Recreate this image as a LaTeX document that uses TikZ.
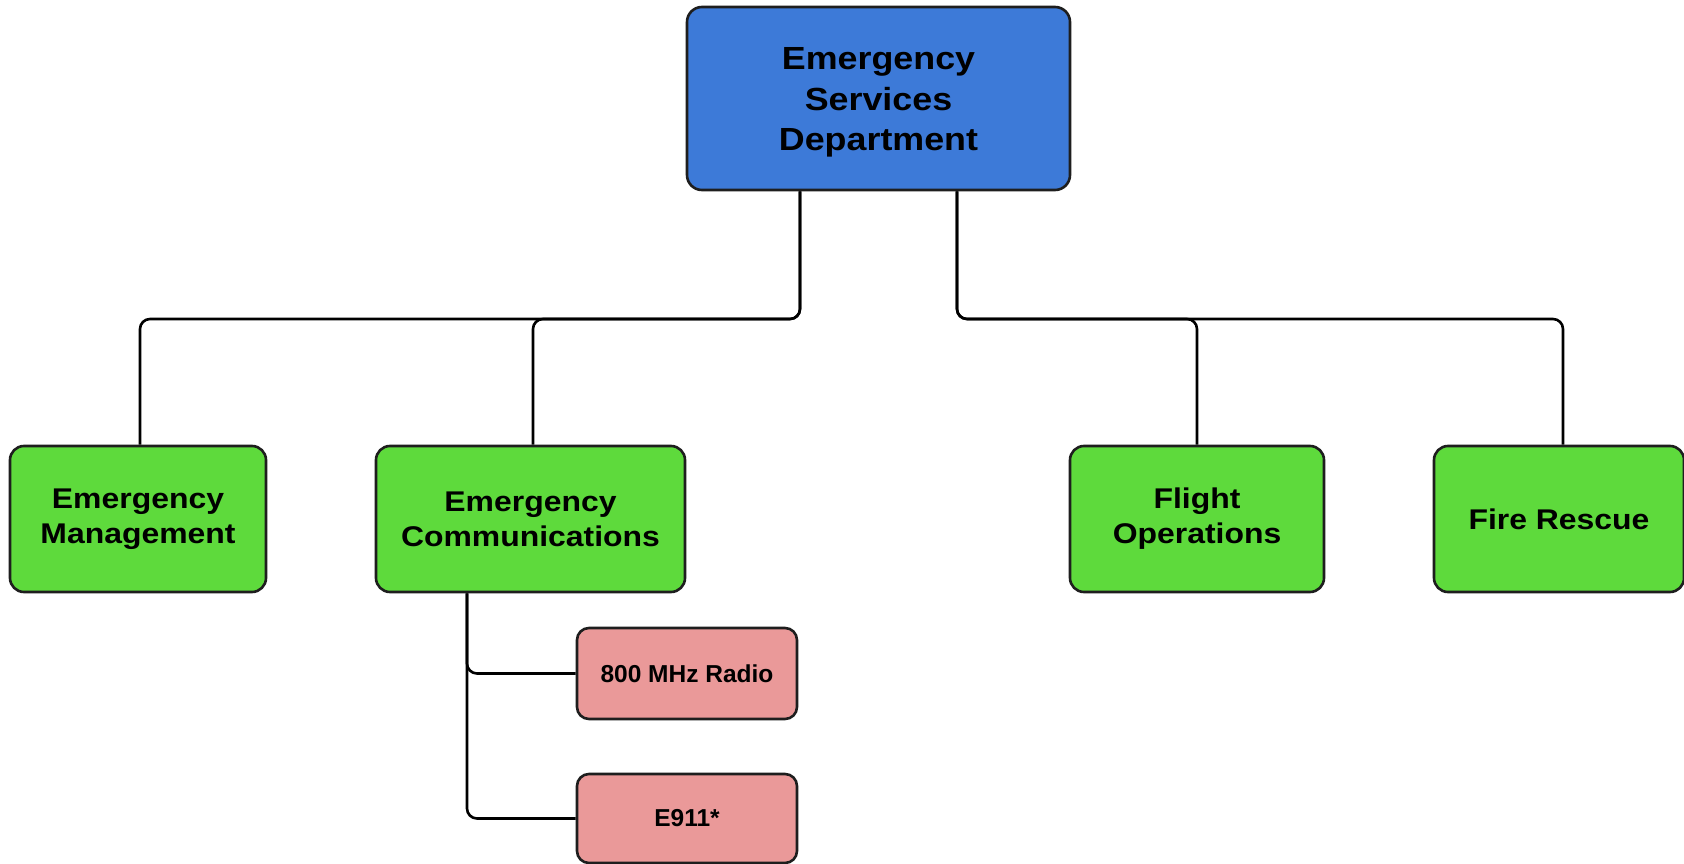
\documentclass[tikz,border=0pt]{standalone}
\usepackage{fontspec}
\setmainfont{Liberation Sans}
\newfontfamily\widefont{Liberation Sans}[FakeStretch=1.12]
\definecolor{deptblue}{RGB}{61,122,216}
\definecolor{unitgreen}{RGB}{94,218,60}
\definecolor{subpink}{RGB}{234,153,153}
\definecolor{edgeink}{RGB}{30,30,30}
\begin{document}
\begin{tikzpicture}[x=1pt,y=-1pt,
  box/.style={draw=edgeink, line width=2.6pt, rectangle, inner sep=0pt, align=center, text=black},
  deptbox/.style={box, fill=deptblue, rounded corners=15pt, minimum width=383pt, minimum height=183pt,
                  font=\widefont\bfseries\fontsize{32}{40.5}\selectfont},
  unitbox/.style={box, fill=unitgreen, rounded corners=14pt, minimum height=146pt,
                  font=\widefont\bfseries\fontsize{28.5}{35}\selectfont},
  subbox/.style={box, fill=subpink, rounded corners=12pt, minimum width=220pt,
                 font=\bfseries\fontsize{24.5}{28}\selectfont},
  conn/.style={draw=black, line width=2.6pt, rounded corners=10pt}]
\useasboundingbox (0,0) rectangle (1684,864);
\fill[white] (0,0) rectangle (1684,864);

% department and its units
\node[deptbox] (dept) at (878.5,98.5) {\rule{0pt}{30pt}Emergency\\Services\\Department};
\node[unitbox, minimum width=256pt] (mgmt)  at (138,519)   {Emergency\\Management};
\node[unitbox, minimum width=309pt] (comms) at (530.5,519) {Emergency\\Communications};
\node[unitbox, minimum width=254pt] (fops)  at (1197,519)  {Flight\\Operations};
\node[unitbox, minimum width=250pt] (fire)  at (1559,519)  {Fire Rescue};

% sections under communications
\node[subbox, minimum height=91pt] (radio) at (687,673.5) {800 MHz Radio};
\node[subbox, minimum height=89pt] (e911)  at (687,818.5) {E911*};

% bus lines from the department
\coordinate (busL) at ([xshift=-78.5pt]dept.south);
\coordinate (busR) at ([xshift=78.5pt]dept.south);
\draw[conn] (busL) -- (busL |- 0,319) -- ([xshift=2pt]mgmt.north |- 0,319) -- ([xshift=2pt]mgmt.north);
\draw[conn] (busL) -- (busL |- 0,319) -- ([xshift=2.5pt]comms.north |- 0,319) -- ([xshift=2.5pt]comms.north);
\draw[conn] (busR) -- (busR |- 0,319) -- (fops.north |- 0,319) -- (fops.north);
\draw[conn] (busR) -- (busR |- 0,319) -- ([xshift=4pt]fire.north |- 0,319) -- ([xshift=4pt]fire.north);

% feeders to the sections
\coordinate (feed) at ([xshift=-63.5pt]comms.south);
\draw[conn] (feed) -- (feed |- radio.west) -- (radio.west);
\draw[conn] (feed) -- (feed |- e911.west) -- (e911.west);
\end{tikzpicture}
\end{document}
